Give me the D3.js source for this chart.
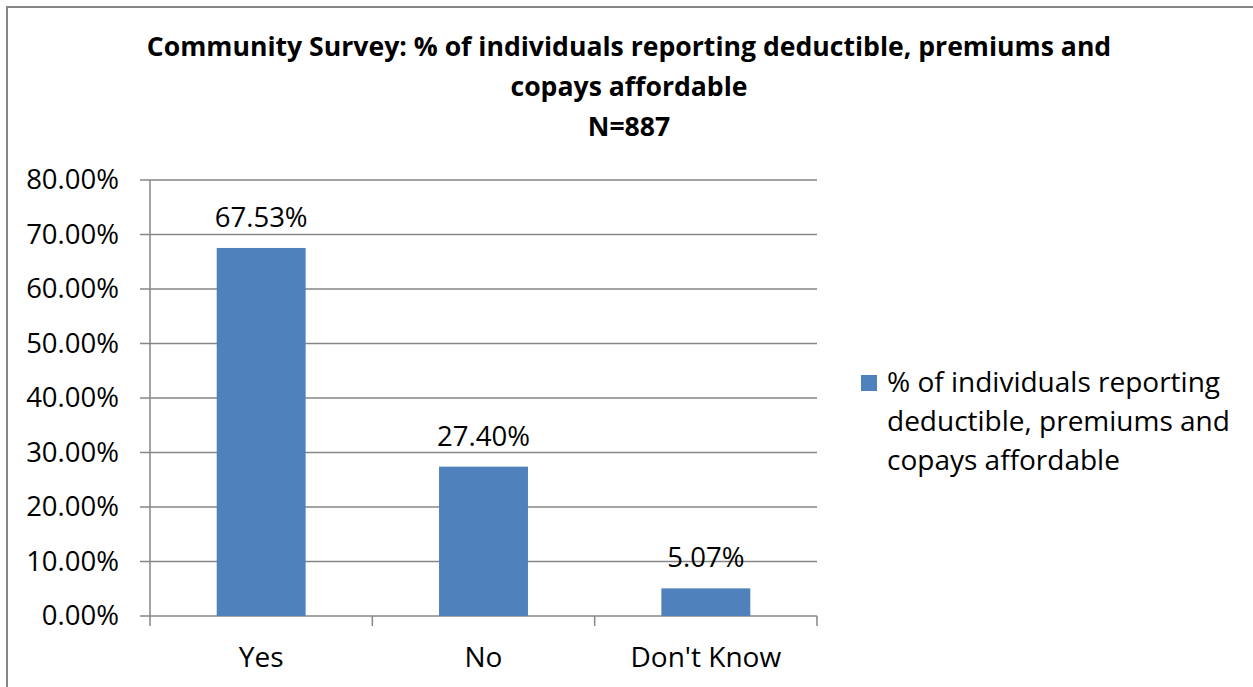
<!DOCTYPE html>
<html><head><meta charset="utf-8">
<script src="https://cdn.jsdelivr.net/npm/d3@7/dist/d3.min.js"></script>
<style>body{margin:0;background:#fff;} svg{display:block;} text{font-family:"Open Sans",sans-serif;fill:#000;}</style>
</head><body>
<svg id="c" width="1253" height="687"></svg>
<script>
const categories = ["Yes", "No", "Don't Know"];
const values = [67.53, 27.40, 5.07];
const valueLabels = ["67.53%", "27.40%", "5.07%"];
const yTicks = [0, 10, 20, 30, 40, 50, 60, 70, 80];
const titleLines = ["Community Survey: % of individuals reporting deductible, premiums and", "copays affordable", "N=887"];
const legendLines = ["% of individuals reporting", "deductible, premiums and", "copays affordable"];

const svg = d3.select("#c");
svg.append("rect").attr("x",7).attr("y",7).attr("width",1260).attr("height",700)
  .attr("fill","#fff").attr("stroke","#868686").attr("stroke-width",2);

const L=150,R=817,T=180,B=616;
const x = d3.scaleBand().domain(categories).range([L,R]).paddingInner(0.6).paddingOuter(0.3);
const xb = d3.scaleBand().domain(categories).range([L,R]);
const y = d3.scaleLinear().domain([0,80]).range([B,T]);

svg.append("text").attr("x",629).attr("y",56).attr("text-anchor","middle")
  .style("font-weight","bold").style("font-size","26.6px")
  .selectAll("tspan").data(titleLines).join("tspan")
  .attr("x",629).attr("dy",(d,i)=>i?40:0).text(d=>d);

const g = svg.append("g");
g.selectAll("line.grid").data(yTicks).join("line")
  .attr("x1",L-10).attr("x2",R).attr("y1",d=>y(d)).attr("y2",d=>y(d))
  .attr("stroke","#868686").attr("stroke-width",1.5);
g.append("line").attr("x1",L).attr("x2",L).attr("y1",T).attr("y2",B)
  .attr("stroke","#868686").attr("stroke-width",1.5);
const xt = categories.map(c=>xb(c)).concat([R]);
g.selectAll("line.xt").data(xt).join("line")
  .attr("x1",d=>d).attr("x2",d=>d).attr("y1",B).attr("y2",B+10)
  .attr("stroke","#868686").attr("stroke-width",1.5);

g.selectAll("text.yl").data(yTicks).join("text")
  .attr("x",L-31).attr("y",d=>y(d)+9).attr("text-anchor","end")
  .style("font-size","27.5px").text(d=>d.toFixed(2)+"%");

g.selectAll("rect.bar").data(values).join("rect")
  .attr("x",(d,i)=>x(categories[i])).attr("width",x.bandwidth())
  .attr("y",d=>y(d)).attr("height",d=>B-y(d)).attr("fill","#4F81BD");

g.selectAll("text.vl").data(values).join("text")
  .attr("x",(d,i)=>x(categories[i])+x.bandwidth()/2).attr("y",d=>y(d)-21)
  .attr("text-anchor","middle").style("font-size","27.5px").text((d,i)=>valueLabels[i]);

g.selectAll("text.xl").data(categories).join("text")
  .attr("x",d=>xb(d)+xb.bandwidth()/2).attr("y",667)
  .attr("text-anchor","middle").style("font-size","28px").text(d=>d);

svg.append("rect").attr("x",861).attr("y",375).attr("width",16).attr("height",16).attr("fill","#4F81BD");
svg.append("text").style("font-size","28px")
  .selectAll("tspan").data(legendLines).join("tspan")
  .attr("x",887).attr("y",(d,i)=>392+i*39).text(d=>d);
</script>
</body></html>
